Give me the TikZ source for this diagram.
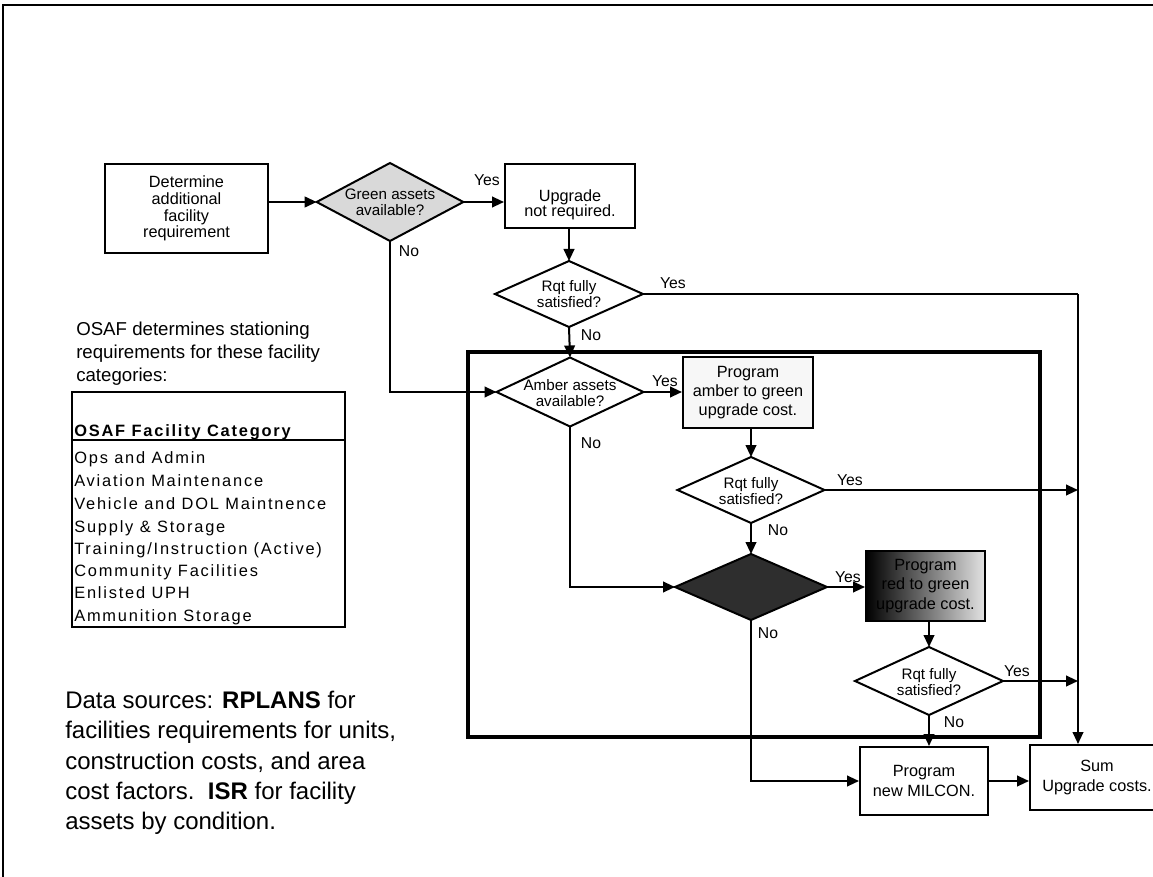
\documentclass[tikz,border=0pt]{standalone}
\usepackage{fontspec}
\setmainfont{Liberation Sans}
\newfontfamily\tabfont[LetterSpace=11]{Liberation Sans}
\usetikzlibrary{arrows.meta,shapes.geometric}
\begin{document}
\begin{tikzpicture}[x=0.75pt,y=-0.75pt,
  box/.style={draw, line width=1.5pt, inner sep=0pt, align=center, font=\fontsize{12.2}{14.5}\selectfont},
  dia/.style={draw, shape=diamond, line width=1.5pt, inner sep=0pt, outer sep=0pt},
  dtext/.style={align=center, inner sep=0pt, font=\fontsize{11.4}{12.2}\selectfont},
  lab/.style={inner sep=0pt, font=\fontsize{11.8}{12}\selectfont},
  conn/.style={line width=1.5pt, -{Triangle[length=9pt,width=8pt]}},
  plain/.style={line width=1.5pt},
  tabrow/.style={anchor=base west, inner sep=0pt, font=\fontsize{12.3}{14}\tabfont}
]
\useasboundingbox (0,0) rectangle (1153,877);
\clip (0,0) rectangle (1153,877);
% outer frame (cropped by the picture edge)
\draw[line width=2.2pt] (3,900) -- (3,5) -- (1170,5);

% big inner rectangle
\node[draw, line width=2.6pt, minimum width=429pt, minimum height=288.75pt, inner sep=0pt] (zone) at (754,544.5) {};

% boxes and decisions
\node[box, minimum width=122.25pt, minimum height=66.75pt, font=\fontsize{12.2}{12.5}\selectfont] (det) at (186.5,208.5) {Determine\\additional\\facility\\requirement};
\node[dia, fill=gray!30, minimum width=110pt, minimum height=58.5pt] (green) at (390,202) {};
\node[dtext] (greent) at (390,202) {Green assets\\available?};
\node[box, minimum width=97.5pt, minimum height=48pt] (upg) at (570,196) {};
\node[dtext, font=\fontsize{12.2}{11.5}\selectfont] (upgt) at (570,205) {Upgrade\\not required.};
\node[dia, fill=white, minimum width=111pt, minimum height=49.5pt] (rqta) at (569,294) {};
\node[dtext] (rqtat) at (569,294) {Rqt fully\\satisfied?};
\node[dia, fill=white, minimum width=110.25pt, minimum height=51.75pt] (amber) at (570,392) {};
\node[dtext] (ambert) at (570,393) {Amber assets\\available?};
\node[box, fill=gray!6, minimum width=97.5pt, minimum height=53.25pt] (abox) at (748,392.5) {Program\\amber to green\\upgrade cost.};
\node[dia, fill=white, minimum width=110.25pt, minimum height=49.5pt] (rqtb) at (751,490) {};
\node[dtext] (rqtbt) at (751,491) {Rqt fully\\satisfied?};
\node[dia, fill=black!82, minimum width=114pt, minimum height=49.5pt] (dark) at (751,587) {};
\node[box, left color=black, right color=gray!22, minimum width=89.25pt, minimum height=52.5pt] (rbox) at (925.5,586) {Program\\red to green\\upgrade cost.};
\node[dia, fill=white, minimum width=111pt, minimum height=51pt] (rqtc) at (929,681) {};
\node[dtext] (rqtct) at (929,682) {Rqt fully\\satisfied?};
\node[box, minimum width=96pt, minimum height=51pt] (milcon) at (924,781) {Program\\new MILCON.};
\node[box, minimum width=100.5pt, minimum height=48.75pt] (sum) at (1097,777.5) {Sum\\Upgrade costs.};

% rail on the right
\coordinate (railtop) at (1078,294);

% connectors
\draw[conn] (green.west -| det.east) -- (green.west);
\draw[conn] (green.east) -- (green.east -| upg.west);
\draw[conn] (rqta.north |- upg.south) -- (rqta.north);
\draw[plain] (rqta.east) -- (railtop);
\draw[conn] (railtop) -- (railtop |- sum.north);
\draw[conn] (rqta.south) -- (amber.north);
\draw[conn] (green.south) |- (amber.west);
\draw[conn] (amber.east) -- (amber.east -| abox.west);
\draw[conn] (rqtb.north |- abox.south) -- (rqtb.north);
\draw[conn] (rqtb.east) -- (rqtb.east -| railtop);
\draw[conn] (rqtb.south) -- (dark.north);
\draw[conn] (amber.south) |- (dark.west);
\draw[conn] (dark.east) -- (dark.east -| rbox.west);
\draw[conn] (rqtc.north |- rbox.south) -- (rqtc.north);
\draw[conn] (rqtc.east) -- (rqtc.east -| railtop);
\draw[conn] (rqtc.south) -- (rqtc.south |- milcon.north);
\draw[conn] (dark.south) |- (milcon.west);
\draw[conn] (milcon.east) -- (milcon.east -| sum.west);

% Yes / No labels
\node[lab] (ya) at (487,180) {Yes};
\node[lab] (na) at (409,251) {No};
\node[lab] (yb) at (673,283) {Yes};
\node[lab] (nb) at (591,335) {No};
\node[lab] (yc) at (665,381) {Yes};
\node[lab] (nc) at (591,443) {No};
\node[lab] (yd) at (850,480) {Yes};
\node[lab] (nd) at (778,530) {No};
\node[lab] (ye) at (848,577) {Yes};
\node[lab] (ne) at (768,633) {No};
\node[lab] (yf) at (1017,671) {Yes};
\node[lab] (nf) at (954,722) {No};

% left notes
\node[anchor=west, align=left, inner sep=0pt, font=\fontsize{14}{17.3}\selectfont] (osaf) at (76,354) {OSAF determines stationing\\requirements for these facility\\categories:};

\node[draw, line width=1.6pt, minimum width=204.75pt, minimum height=176.25pt, inner sep=0pt] (tab) at (208.5,509.5) {};
\draw[line width=1.6pt] (tab.west |- 0,440) -- (tab.east |- 0,440);
\node[tabrow, font=\fontsize{12.3}{14}\tabfont\bfseries] (th) at (74,436) {OSAF Facility Category};
\node[tabrow] (r1) at (74,463) {Ops and Admin};
\node[tabrow] (r2) at (74,486) {Aviation Maintenance};
\node[tabrow] (r3) at (74,509) {Vehicle and DOL Maintnence};
\node[tabrow] (r4) at (74,532) {Supply \& Storage};
\node[tabrow] (r5) at (74,554) {Training/Instruction (Active)};
\node[tabrow] (r6) at (74,576) {Community Facilities};
\node[tabrow] (r7) at (74,598) {Enlisted UPH};
\node[tabrow] (r8) at (74,621) {Ammunition Storage};

\node[anchor=west, align=left, inner sep=0pt, font=\fontsize{18}{22.7}\selectfont] (src) at (65,763) {Data sources: \textbf{RPLANS} for\\facilities requirements for units,\\construction costs, and area\\cost factors.\ \ \textbf{ISR} for facility\\assets by condition.};
\end{tikzpicture}
\end{document}
